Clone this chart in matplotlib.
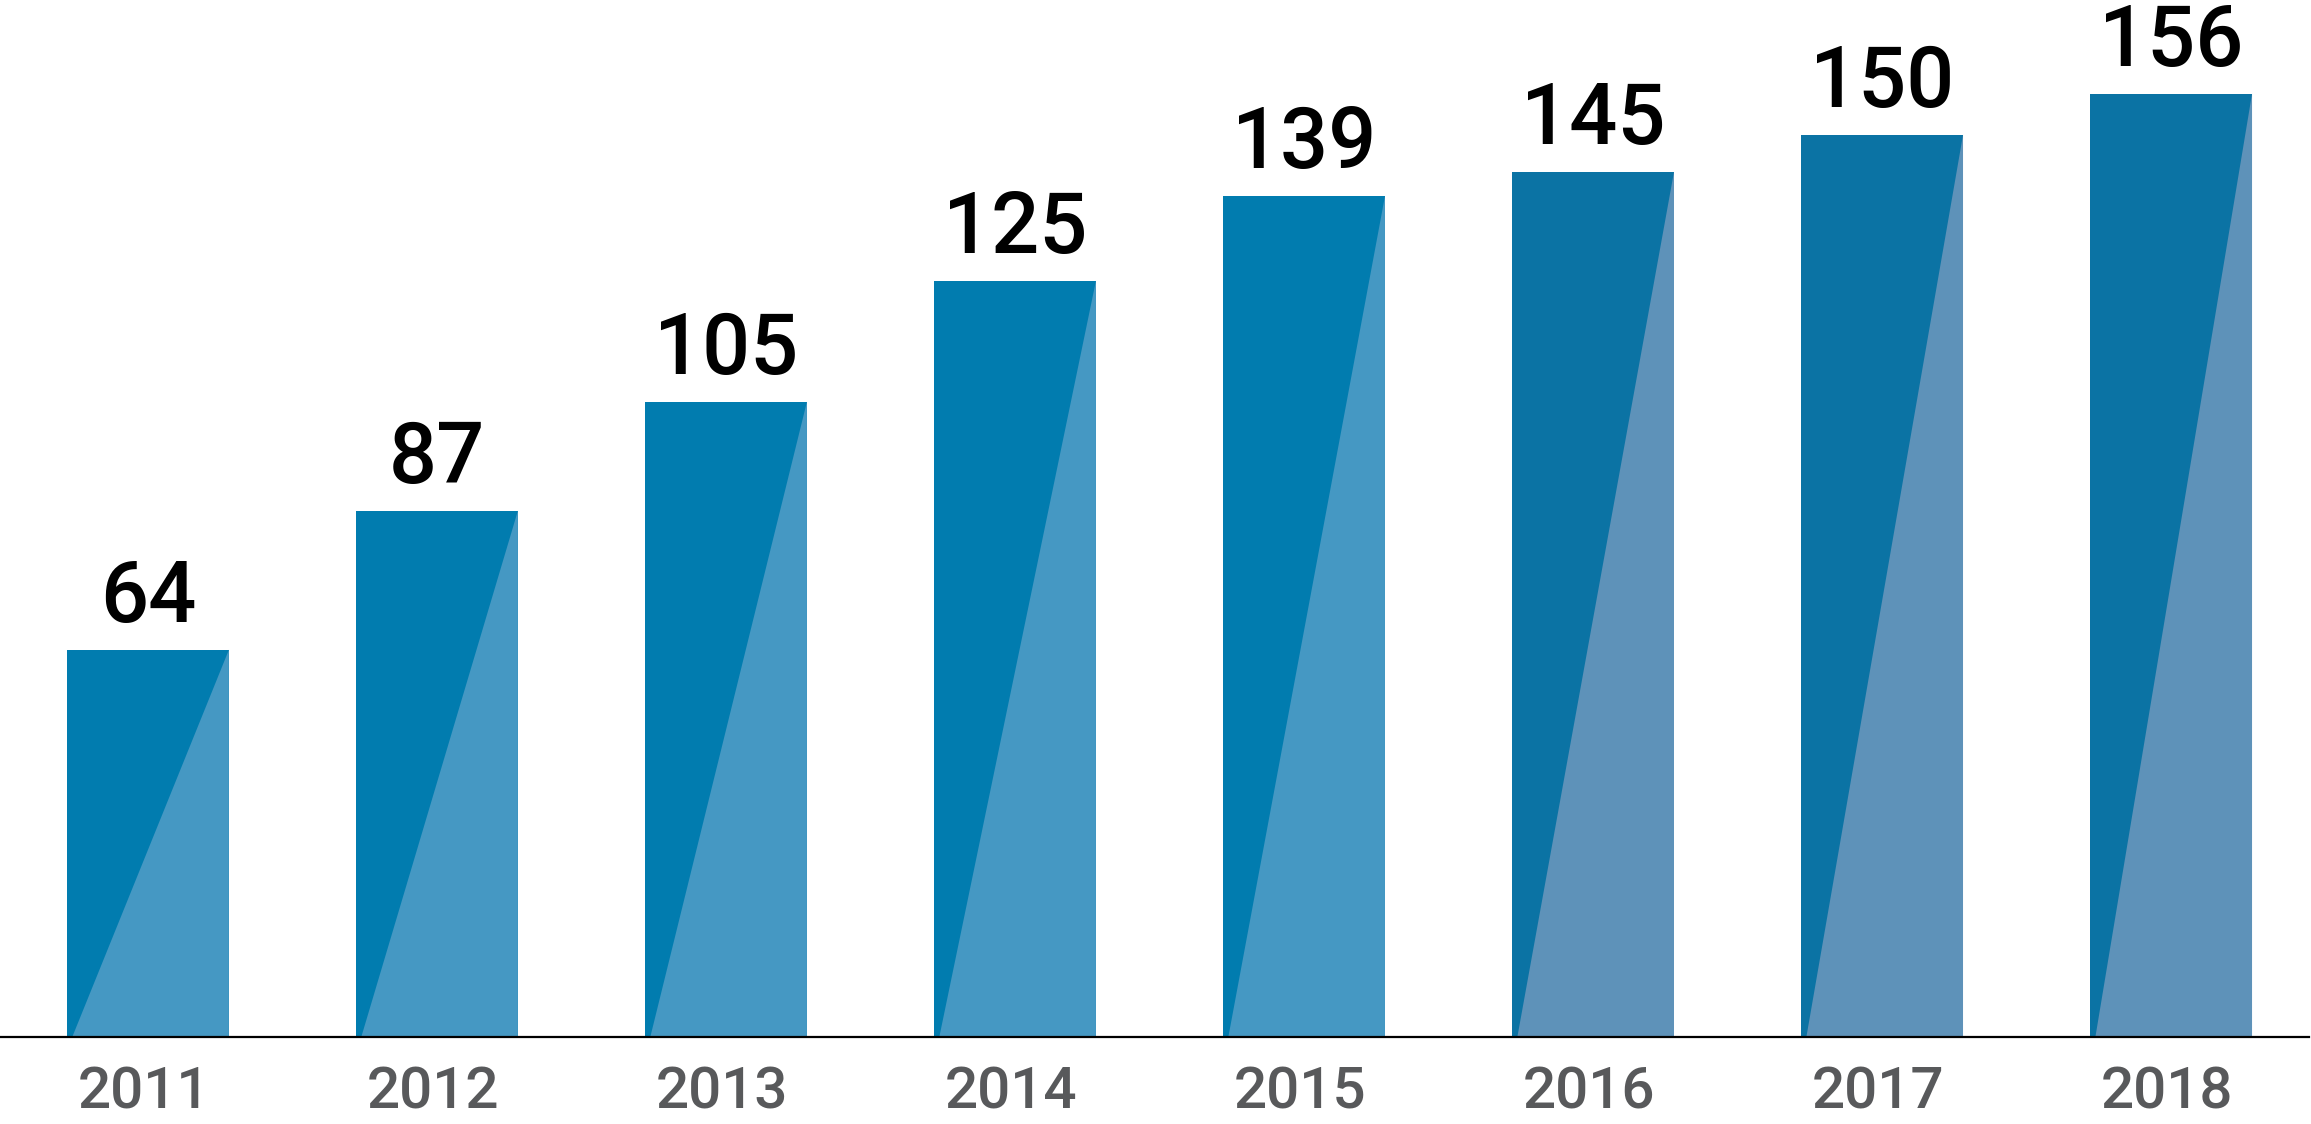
"""
Bar chart 2011-2018 with two-tone diagonal split bars.

Saves to:
  out.png
"""

import matplotlib.pyplot as plt

YEARS = ["2011", "2012", "2013", "2014", "2015", "2016", "2017", "2018"]
LABELS = [64, 87, 105, 125, 139, 145, 150, 156]
# bar heights as drawn in the source (the last bars run a little short of their labels)
HEIGHTS = [64, 87, 105, 125, 139, 143, 149.1, 155.9]

# first five bars one blue pair, last three a greyer pair
DARK = ["#017caf"] * 5 + ["#0b73a4"] * 3
LIGHT = ["#4598c3"] * 5 + ["#5e92b9"] * 3

W, H, DPI = 2311, 1124, 100
BAR_W = 0.56
SPLIT_OFF = 0.018   # diagonal starts a hair right of the bar's left edge

plt.rcParams["font.family"] = ["Roboto", "DejaVu Sans"]


def main():
    fig = plt.figure(figsize=(W / DPI, H / DPI), dpi=DPI)
    ax = fig.add_axes([0, 87 / H, 1, 1037 / H])
    ax.set_xlim(-0.512, 7.484)
    ax.set_ylim(0, 171.4)
    ax.axis("off")

    xs = list(range(len(YEARS)))
    ax.bar(xs, HEIGHTS, width=BAR_W, color=DARK, linewidth=0, zorder=1)

    for x, h, lab, c in zip(xs, HEIGHTS, LABELS, LIGHT):
        left, right = x - BAR_W / 2, x + BAR_W / 2
        ax.fill([left + SPLIT_OFF, right, right], [0, h, 0],
                color=c, linewidth=0, zorder=2)
        ax.text(x, h + 4.6, str(lab), ha="center", va="baseline",
                fontsize=61, fontweight="medium", color="black")
        ax.text(x - 0.015, -11.9, YEARS[x], ha="center", va="baseline",
                fontsize=42, fontweight="medium", color="#58595b", clip_on=False)

    ax.axhline(0, xmin=0, xmax=0.999, color="black", linewidth=1.6,
               zorder=3, clip_on=False)

    fig.savefig("out.png", dpi=DPI)
    plt.close(fig)


if __name__ == "__main__":
    main()
